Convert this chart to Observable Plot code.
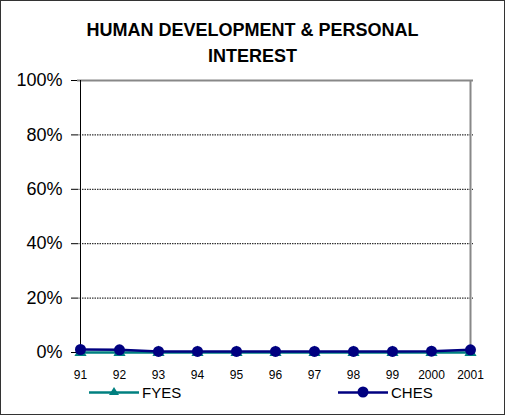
<!DOCTYPE html>
<html>
<head>
<meta charset="utf-8">
<script src="https://cdn.jsdelivr.net/npm/d3@7"></script>
<script src="https://cdn.jsdelivr.net/npm/@observablehq/plot@0.6"></script>
<style>
  html, body { margin: 0; padding: 0; background: #fff; }
  #wrap { position: relative; width: 508px; height: 417px; font-family: "Liberation Sans", Arial, sans-serif; }
  #frame { position: absolute; left: 0px; top: 0px; width: 503px; height: 413px; border: 1.5px solid #333; box-sizing: content-box; pointer-events: none; }
  #title { position: absolute; left: 0; width: 505px; top: 17px; text-align: center; font-weight: bold; font-size: 18px; line-height: 26px; color: #000; }
  .leg { position: absolute; top: 383px; font-size: 15px; display: flex; align-items: center; }
  #chart { position: absolute; left: 0; top: 0; }
</style>
</head>
<body>
<div id="wrap">
  <div id="chart"></div>
  <div id="title">HUMAN DEVELOPMENT &amp; PERSONAL<br>INTEREST</div>
  <div class="leg" id="leg1" style="left:89px"></div>
  <div class="leg" id="leg2" style="left:338px"></div>
  <div id="frame"></div>
</div>
<script>
const years = ["91","92","93","94","95","96","97","98","99","2000","2001"];
const fyes = [0,0,0,0,0,0,0,0,0,0,0];
const ches = [0.011,0.010,0.004,0.004,0.004,0.004,0.004,0.004,0.004,0.005,0.010];
const yTicks = [0,0.2,0.4,0.6,0.8,1];

const seriesNames = ["FYES","CHES"];
const colors = {FYES: "#008080", CHES: "#000080"};

const data = [];
years.forEach((y,i) => data.push({year: y, value: fyes[i], series: "FYES"}));
years.forEach((y,i) => data.push({year: y, value: ches[i], series: "CHES"}));

const chart = Plot.plot({
  width: 508,
  height: 417,
  marginLeft: 77,
  marginRight: 35,
  marginTop: 80,
  marginBottom: 65,
  style: {fontFamily: "'Liberation Sans', Arial, sans-serif", background: "transparent", overflow: "visible"},
  x: {type: "point", domain: years, padding: 0, label: null},
  y: {domain: [0,1], label: null},
  marks: [
    Plot.gridY(yTicks.filter(d => d > 0 && d < 1), {stroke: "#000", strokeOpacity: 1, strokeDasharray: "1.5,1", strokeWidth: 1}),
    Plot.ruleY([1], {stroke: "#888", strokeWidth: 2}),
    Plot.ruleX([years[years.length-1]], {stroke: "#888", strokeWidth: 2}),
    Plot.axisY({ticks: yTicks, tickFormat: d3.format(".0%"), tickSize: 6, tickPadding: 9, fontSize: 18, stroke: "#000", color: "#000", label: null}),
    Plot.axisX({tickSize: 0, tickPadding: 18, fontSize: 12, color: "#000", label: null}),
    Plot.ruleX([years[0]], {stroke: "#000", strokeWidth: 1}),
    Plot.ruleY([0], {stroke: "#000", strokeWidth: 1}),
    Plot.line(data.filter(d => d.series === "FYES"), {x: "year", y: "value", stroke: colors.FYES, strokeWidth: 2.5}),
    Plot.dot(data.filter(d => d.series === "FYES"), {x: "year", y: "value", symbol: "triangle", r: 4.5, fill: colors.FYES, stroke: "none"}),
    Plot.line(data.filter(d => d.series === "CHES"), {x: "year", y: "value", stroke: colors.CHES, strokeWidth: 2.5}),
    Plot.dot(data.filter(d => d.series === "CHES"), {x: "year", y: "value", symbol: "circle", r: 5.5, fill: colors.CHES, stroke: "none"})
  ]
});
document.getElementById("chart").appendChild(chart);

function legendItem(el, name, shape) {
  const c = colors[name];
  const marker = shape === "triangle"
    ? `<path d="M25,4 L30,12 L20,12 Z" fill="${c}"/>`
    : `<circle cx="25" cy="9" r="5.5" fill="${c}"/>`;
  el.innerHTML = `<svg width="50" height="18" style="display:block"><line x1="0" x2="50" y1="9.5" y2="9.5" stroke="${c}" stroke-width="2.5"/>${marker}</svg><span style="margin-left:3px">${name}</span>`;
}
legendItem(document.getElementById("leg1"), seriesNames[0], "triangle");
legendItem(document.getElementById("leg2"), seriesNames[1], "circle");
</script>
</body>
</html>
